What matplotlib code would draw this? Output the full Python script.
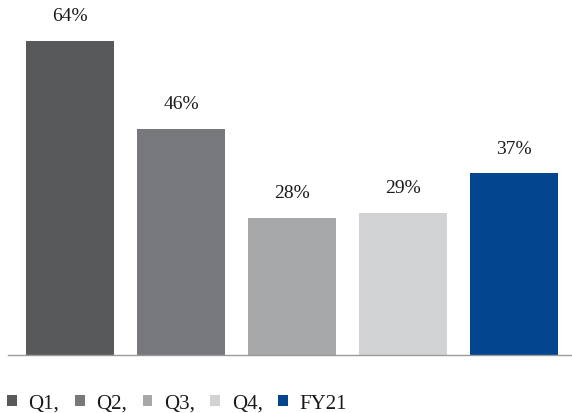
import matplotlib.pyplot as plt
from matplotlib.patches import Patch

categories = ["Q1", "Q2", "Q3", "Q4", "FY21"]
values = [64, 46, 28, 29, 37]
legend_labels = ["Q1,", "Q2,", "Q3,", "Q4,", "FY21"]
colors = ["#58595b", "#77787b", "#a7a8aa", "#d1d2d4", "#03468f"]

plt.rcParams["font.family"] = ["Liberation Serif", "DejaVu Serif"]

fig = plt.figure(figsize=(5.72, 4.14), dpi=100)
ax = fig.add_axes([8 / 572, 58 / 414, 564 / 572, 356 / 414])

x = list(range(len(categories)))
bars = ax.bar(x, values, width=0.793, color=colors)

for b, v in zip(bars, values):
    ax.annotate(f"{v}%", (b.get_x() + b.get_width() / 2, v),
                xytext=(0, 12), textcoords="offset points",
                ha="center", va="bottom", fontsize=14, color="#1a1a1a")

ax.set_xlim(-0.559, 4.523)
ax.set_ylim(0, 72.5)
for s in ["top", "right", "left"]:
    ax.spines[s].set_visible(False)
ax.spines["bottom"].set_color("#9a9a9a")
ax.spines["bottom"].set_linewidth(1.0)
ax.set_xticks([])
ax.set_yticks([])

handles = [Patch(facecolor=c, edgecolor="none") for c in colors]
fig.legend(handles, legend_labels, loc="lower left", bbox_to_anchor=(5 / 572, -0.005),
           ncol=5, frameon=False, fontsize=15, handlelength=0.47, handleheight=0.47,
           handletextpad=0.55, columnspacing=0.75, borderpad=0.1, borderaxespad=0,
           labelcolor="#1a1a1a")

fig.savefig("out.png", dpi=100)
